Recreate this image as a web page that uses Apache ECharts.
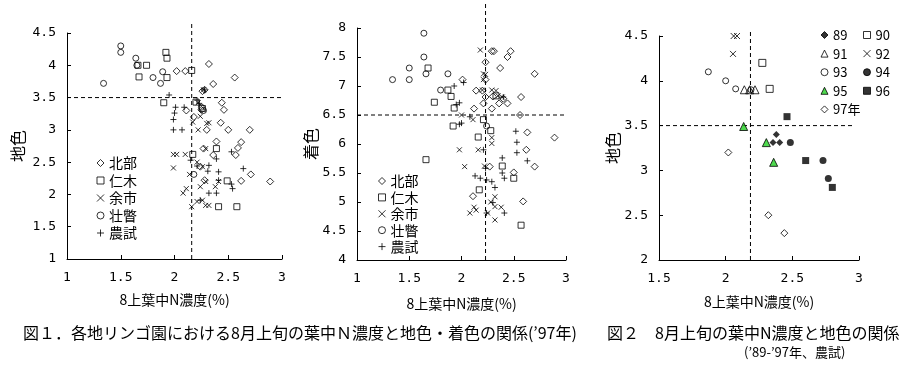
<!DOCTYPE html>
<html>
<head>
<meta charset="utf-8">
<script src="https://cdn.jsdelivr.net/npm/echarts@6/dist/echarts.min.js"></script>
<style>
html,body{margin:0;padding:0;background:#fff;}
#c{width:917px;height:366px;}
</style>
</head>
<body>
<div id="c"></div>
<script>
// ---------- Data: Fig.1 left  (地色 vs 8上葉中N濃度, 1997) ----------
const hokubu1 = [[2.02,3.91],[2.10,3.91],[2.32,4.02],[2.56,3.81],[2.36,3.71],[2.26,3.60],[2.28,3.62],[2.44,3.42],[2.46,3.31],[2.11,3.30],[2.43,3.11],[2.30,3.00],[2.50,3.00],[2.70,3.00],[2.18,3.20],[2.39,2.82],[2.62,2.81],[2.59,2.72],[2.57,2.61],[2.36,2.61],[2.27,2.71],[2.71,2.31],[2.62,2.21],[2.89,2.20],[2.24,2.43],[2.28,2.22],[2.25,3.31]];
const niki1 = [[1.92,4.20],[1.93,4.11],[1.66,4.00],[1.74,4.00],[1.67,3.82],[1.93,3.81],[2.16,3.92],[1.90,3.42],[2.20,3.43],[2.26,3.33],[2.17,2.62],[2.39,2.71],[2.49,2.21],[2.41,1.81],[2.58,1.81]];
const yoichi1 = [[1.99,2.62],[2.02,2.62],[1.99,2.41],[2.10,2.62],[2.17,3.12],[2.22,3.00],[2.24,3.21],[2.32,3.11],[2.14,2.31],[2.08,2.02],[2.11,2.09],[2.16,1.81],[2.21,1.89],[2.26,1.91],[2.29,1.83],[2.32,1.83],[2.24,2.12],[2.29,2.20],[2.38,2.12],[2.21,2.50],[2.26,2.43],[2.41,2.20],[2.29,2.71],[2.30,3.10],[2.27,3.62],[2.22,3.42]];
const sobetsu1 = [[1.50,4.30],[1.50,4.20],[1.34,3.72],[1.64,4.11],[1.65,4.00],[1.80,3.81],[1.89,3.90],[1.87,3.72],[2.18,2.31],[2.25,3.35],[2.27,3.30]];
const noshi1 = [[1.95,3.54],[2.01,3.35],[2.09,3.35],[2.00,3.26],[1.99,3.16],[1.99,3.00],[2.07,3.00],[2.21,3.46],[2.23,3.41],[2.39,2.55],[2.32,2.45],[2.21,2.44],[2.31,2.36],[2.41,2.35],[2.53,2.66],[2.64,2.40],[2.53,2.16],[2.54,2.09],[2.32,2.02],[2.39,2.02],[2.41,2.22],[2.24,1.91],[2.15,2.53],[2.28,3.62]];

// ---------- Data: Fig.1 right (着色 vs 8上葉中N濃度, 1997) ----------
const hokubu2 = [[2.29,7.60],[2.31,7.60],[2.47,7.60],[2.44,7.50],[2.23,7.41],[2.37,7.31],[2.70,7.21],[2.01,7.11],[2.23,7.11],[2.14,6.92],[2.20,6.92],[2.57,6.81],[2.23,6.81],[2.44,6.70],[2.36,6.70],[2.21,6.70],[2.12,6.61],[2.29,6.61],[2.56,6.50],[2.63,6.20],[2.89,6.11],[2.62,5.90],[2.70,5.61],[2.50,5.51],[2.27,5.61],[2.11,5.10],[2.59,5.01],[2.30,6.82],[2.40,6.78]];
const niki2 = [[1.68,7.31],[1.74,6.72],[1.90,6.82],[1.93,6.62],[1.92,6.31],[1.87,6.93],[2.21,6.42],[2.16,6.12],[2.28,6.23],[1.66,5.73],[2.39,5.62],[2.50,5.41],[2.17,5.21],[2.57,4.60],[2.33,6.83]];
const yoichi2 = [[2.18,7.62],[2.21,7.21],[2.23,7.20],[2.21,7.11],[2.20,6.93],[2.29,6.93],[2.33,6.92],[2.35,6.83],[2.39,6.81],[2.00,6.50],[2.11,6.42],[1.98,5.90],[2.03,5.61],[2.16,5.90],[2.22,5.62],[2.29,6.11],[2.29,6.01],[2.12,4.91],[2.14,4.86],[2.08,4.81],[2.32,5.09],[2.28,5.00],[2.32,4.92],[2.38,4.91],[2.32,4.69],[2.25,4.81]];
const sobetsu2 = [[1.64,7.91],[1.64,7.50],[1.50,7.31],[1.34,7.11],[1.50,7.11],[1.66,7.21],[1.87,7.21],[1.80,6.93],[2.24,6.31]];
const noshi2 = [[1.93,7.00],[2.02,7.06],[1.95,6.68],[1.98,6.71],[2.08,6.47],[1.98,6.34],[2.00,6.36],[2.21,5.90],[2.23,5.58],[2.13,5.45],[2.18,5.41],[2.24,5.38],[2.29,5.35],[2.32,5.25],[2.39,5.76],[2.39,5.50],[2.41,5.41],[2.52,6.22],[2.53,6.03],[2.53,5.85],[2.63,5.71],[2.30,4.99],[2.41,4.81],[2.24,4.81],[2.40,6.81]];

// ---------- Data: Fig.2 (地色 vs 8上葉中N濃度, 89-97 農試) ----------
const y89 = [[2.38,3.40],[2.355,3.31],[2.405,3.31]];
const y90 = [[2.275,4.20],[2.33,3.91]];
const y91 = [[2.14,3.90],[2.18,3.90],[2.22,3.90]];
const y92 = [[2.06,4.50],[2.085,4.50],[2.055,4.30]];
const y93 = [[1.87,4.10],[2.00,4.00],[2.075,3.91],[2.19,3.90]];
const y94 = [[2.485,3.31],[2.73,3.11],[2.77,2.91]];
const y95 = [[2.135,3.49],[2.305,3.31],[2.36,3.09]];
const y96 = [[2.46,3.60],[2.60,3.11],[2.80,2.81]];
const y97 = [[2.02,3.20],[2.32,2.50],[2.44,2.30]];

// reference (threshold) lines
const refN = [2.16, 2.23, 2.186];
const refY = [3.5, 6.5, 3.5];

// labels
const siteNames = ['北部','仁木','余市','壮瞥','農試'];
const yearNamesA = ['89','91','93','95','97年'];
const yearNamesB = ['90','92','94','96'];
const xName = '8上葉中N濃度(%)';
const yNames = ['地色','着色','地色'];
const caption1 = '図１．各地リンゴ園における8月上旬の葉中Ｎ濃度と地色・着色の関係(’97年)';
const caption2 = '図２　8月上旬の葉中N濃度と地色の関係';
const caption3 = '(’89-’97年、農試)';

// ---------- Rendering ----------
const JP = '"Noto Sans CJK JP", sans-serif';
const MONO = '"DejaVu Sans Mono", monospace';
const SYM_X = 'path://M0,0L10,10M10,0L0,10';
const SYM_P = 'path://M5,0L5,10M0,5L10,5';
const hollow = {color:'transparent', borderColor:'#000', borderWidth:1};
const filled = {color:'#000', borderColor:'#000', borderWidth:0};

const fmt = v => (Math.abs(v - Math.round(v)) < 1e-9 ? String(Math.round(v)) : v.toFixed(1));

function xAxis(gi, min, max, gap){
  return {type:'value', gridIndex:gi, min:min, max:max, interval:0.5,
    name:xName, nameLocation:'middle', nameGap:gap,
    nameTextStyle:{fontFamily:JP, fontSize:14, color:'#000'},
    axisLine:{show:true, onZero:false, lineStyle:{color:'#000', width:1}},
    axisTick:{show:true, inside:true, length:4, lineStyle:{color:'#000'}},
    axisLabel:{fontFamily:MONO, fontSize:13, color:'#000', margin:12, formatter:fmt},
    splitLine:{show:false}};
}
function yAxis(gi, min, max, name, gap){
  return {type:'value', gridIndex:gi, min:min, max:max, interval:0.5,
    name:name, nameLocation:'middle', nameGap:gap, nameRotate:90,
    nameTextStyle:{fontFamily:JP, fontSize:16, color:'#000'},
    axisLine:{show:true, onZero:false, lineStyle:{color:'#000', width:1}},
    axisTick:{show:true, inside:true, length:4, lineStyle:{color:'#000'}},
    axisLabel:{fontFamily:MONO, fontSize:13, color:'#000', margin:11, formatter:fmt},
    splitLine:{show:false}};
}
function sc(name, gi, data, symbol, size, style){
  return {type:'scatter', name:name, xAxisIndex:gi, yAxisIndex:gi, data:data,
    symbol:symbol, symbolSize:size, itemStyle:style, z:3};
}
function ref(gi, pts){
  return {type:'line', xAxisIndex:gi, yAxisIndex:gi, data:pts, symbol:'none', clip:false,
    silent:true, lineStyle:{color:'#000', width:1, type:[4,3]}, z:1};
}
function siteSeries(gi, d){
  return [
    sc('北部', gi, d[0], 'diamond', 7, hollow),
    sc('仁木', gi, d[1], 'rect', 6, hollow),
    sc('余市', gi, d[2], SYM_X, 5, hollow),
    sc('壮瞥', gi, d[3], 'circle', 6, hollow),
    sc('農試', gi, d[4], SYM_P, 6, hollow)
  ];
}

const legendBase = {orient:'vertical', padding:0, itemWidth:7, itemHeight:7, selectedMode:false,
  itemStyle:{borderWidth:1},
  textStyle:{fontFamily:JP, fontSize:14, lineHeight:14, color:'#000'}};

const option = {
  animation:false,
  backgroundColor:'#fff',
  title:[
    {text:caption1, left:23, top:323, padding:0, textStyle:{fontFamily:JP, fontSize:16, fontWeight:'normal', color:'#000', lineHeight:20}},
    {text:caption2, left:607, top:323, padding:0, textStyle:{fontFamily:JP, fontSize:16, fontWeight:'normal', color:'#000', lineHeight:20}},
    {text:caption3, left:744, top:345, padding:0, textStyle:{fontFamily:JP, fontSize:13, fontWeight:'normal', color:'#000', lineHeight:15}}
  ],
  grid:[
    {left:67, top:33, width:215, height:226},
    {left:357, top:28, width:209, height:232},
    {left:659, top:36, width:200, height:224}
  ],
  xAxis:[xAxis(0,1,3,34), xAxis(1,1,3,37), xAxis(2,1.5,3,35)],
  yAxis:[yAxis(0,1,4.5,yNames[0],41), yAxis(1,4,8,yNames[1],36), yAxis(2,2,4.5,yNames[2],35)],
  legend:[
    Object.assign({}, legendBase, {data:siteNames, left:96.5, top:156, itemGap:3.5}),
    Object.assign({}, legendBase, {data:siteNames, left:378, top:174, itemGap:2.4}),
    Object.assign({}, legendBase, {data:yearNamesA, left:820.5, top:28.5, itemGap:5.6, textStyle:{fontFamily:JP, fontSize:13, lineHeight:13, color:'#000'}}),
    Object.assign({}, legendBase, {data:yearNamesB, left:863, top:28.5, itemGap:5.6, textStyle:{fontFamily:JP, fontSize:13, lineHeight:13, color:'#000'}})
  ],
  series:[].concat(
    [ref(0, [[refN[0],1],[refN[0],4.65]]), ref(0, [[1,refY[0]],[3,refY[0]]]),
     ref(1, [[refN[1],4],[refN[1],8.43]]), ref(1, [[1,refY[1]],[3.09,refY[1]]]),
     ref(2, [[refN[2],2],[refN[2],4.56]]), ref(2, [[1.5,refY[2]],[2.97,refY[2]]])],
    siteSeries(0, [hokubu1, niki1, yoichi1, sobetsu1, noshi1]),
    siteSeries(1, [hokubu2, niki2, yoichi2, sobetsu2, noshi2]),
    [
      sc('89', 2, y89, 'diamond', 7, filled),
      sc('90', 2, y90, 'rect', 7, hollow),
      sc('91', 2, y91, 'triangle', 8, hollow),
      sc('92', 2, y92, SYM_X, 6, hollow),
      sc('93', 2, y93, 'circle', 6, hollow),
      sc('94', 2, y94, 'circle', 7, filled),
      sc('95', 2, y95, 'triangle', 8, {color:'#22d022', borderColor:'#000', borderWidth:1}),
      sc('96', 2, y96, 'rect', 7, filled),
      sc('97年', 2, y97, 'diamond', 7, hollow)
    ]
  )
};

const chart = echarts.init(document.getElementById('c'), null, {renderer:'canvas'});
chart.setOption(option);
</script>
</body>
</html>
